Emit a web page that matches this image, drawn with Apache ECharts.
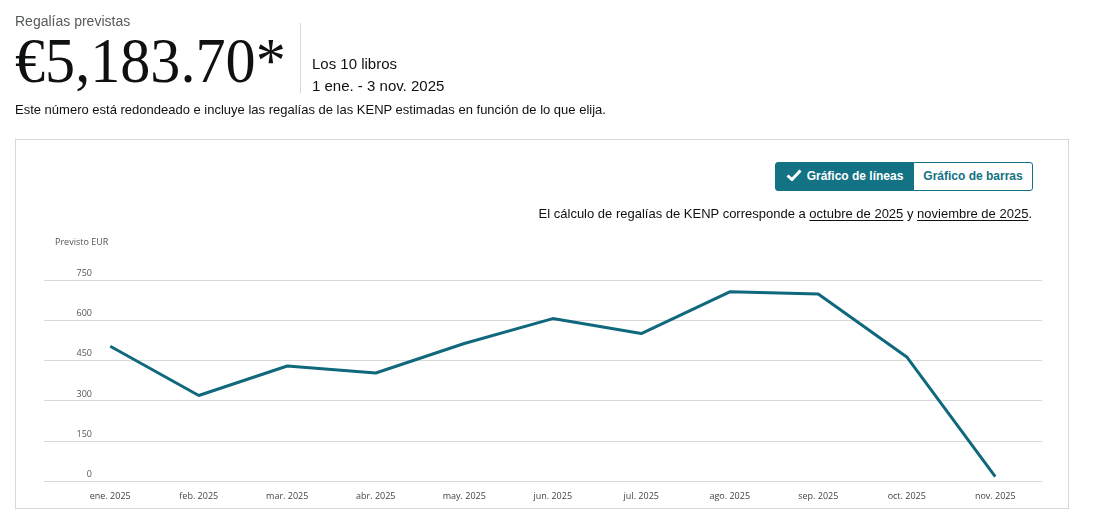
<!DOCTYPE html>
<html>
<head>
<meta charset="utf-8">
<script src="https://cdn.jsdelivr.net/npm/echarts@6/dist/echarts.min.js"></script>
<style>
    html, body { margin: 0; padding: 0; background: #fff; }
    body { width: 1101px; height: 523px; position: relative; overflow: hidden;
           font-family: "Liberation Sans", Arial, sans-serif; color: #0f1111; }
    .abs { position: absolute; white-space: nowrap; }
    #chart { position: absolute; left: 0; top: 0; width: 1101px; height: 523px; }
    .box { position: absolute; left: 15px; top: 139px; width: 1054px; height: 370px;
           border: 1px solid #d5d9d9; box-sizing: border-box; }
    .btn { position: absolute; top: 162px; height: 29px; box-sizing: border-box;
           font-size: 12px; font-weight: bold; line-height: 27px; text-align: center; }
    u { text-decoration: underline; text-underline-offset: 2px; }
</style>
</head>
<body>
<div class="box"></div>
<div id="chart"></div>

<div class="abs" style="left:15px;top:13px;font-size:14px;color:#565959;">Regalías previstas</div>
<div class="abs" style="left:15px;top:21px;font-family:'Liberation Serif',serif;font-size:64px;line-height:80px;transform:scaleX(0.94);transform-origin:left top;">€5,183.70*</div>
<div class="abs" style="left:300px;top:23px;width:1px;height:70px;background:#d5d9d9;"></div>
<div class="abs" style="left:312px;top:55px;font-size:15px;">Los 10 libros</div>
<div class="abs" style="left:312px;top:77px;font-size:15px;">1 ene. - 3 nov. 2025</div>
<div class="abs" style="left:15px;top:102px;font-size:13px;">Este número está redondeado e incluye las regalías de las KENP estimadas en función de lo que elija.</div>

<div class="btn" style="left:775px;width:139px;background:#137283;color:#fff;border:1px solid #137283;border-radius:3px 0 0 3px;">
    <svg width="16" height="12" viewBox="0 0 16 12" style="vertical-align:-1px;margin-right:5px;"><path d="M1.5 6.5 L6 10.5 L14.5 1.5" fill="none" stroke="#fff" stroke-width="3"/></svg>Gráfico de líneas</div>
<div class="btn" style="left:913px;width:120px;background:#fff;color:#137283;border:1px solid #137283;border-radius:0 3px 3px 0;">Gráfico de barras</div>

<div class="abs" style="right:69px;top:206px;font-size:13px;">El cálculo de regalías de KENP corresponde a <u>octubre de 2025</u> y <u>noviembre de 2025</u>.</div>

<script>
// datos
var months = ['ene. 2025', 'feb. 2025', 'mar. 2025', 'abr. 2025', 'may. 2025', 'jun. 2025',
              'jul. 2025', 'ago. 2025', 'sep. 2025', 'oct. 2025', 'nov. 2025'];
var royalties = [503, 319, 429, 403, 513, 606, 550, 706, 698, 463, 16];
var yTicks = [0, 150, 300, 450, 600, 750];

var myChart = echarts.init(document.getElementById('chart'), null, { renderer: 'canvas' });
var option = {
    animation: false,
    backgroundColor: 'transparent',
    textStyle: { fontFamily: '"Open Sans", sans-serif' },
    graphic: [
        {
            type: 'text', left: 55, top: 238,
            style: { text: 'Previsto EUR', fontSize: 9, fill: '#555', fontFamily: '"Open Sans", sans-serif' }
        }
    ],
    grid: [
        // rejilla ancha: solo líneas horizontales y etiquetas del eje y
        { left: 44, right: 59, top: 280, bottom: 42 },
        // rejilla de la serie
        { left: 66, right: 61.5, top: 280, bottom: 42 }
    ],
    xAxis: [
        { gridIndex: 0, type: 'value', show: false },
        {
            gridIndex: 1,
            type: 'category',
            data: months,
            boundaryGap: true,
            axisLine: { show: false },
            axisTick: { show: false },
            axisLabel: { color: '#444', fontSize: 9, margin: 11, interval: 0 }
        }
    ],
    yAxis: [
        {
            gridIndex: 0,
            type: 'value',
            min: yTicks[0],
            max: yTicks[yTicks.length - 1],
            interval: 150,
            axisLine: { show: false },
            axisTick: { show: false },
            axisLabel: {
                inside: true,
                margin: 48,
                align: 'right',
                verticalAlign: 'bottom',
                padding: [0, 0, 2, 0],
                color: '#555',
                fontSize: 9
            },
            splitLine: { show: true, lineStyle: { color: '#d9d9d9', width: 1 } }
        },
        {
            gridIndex: 1,
            type: 'value',
            min: yTicks[0],
            max: yTicks[yTicks.length - 1],
            interval: 150,
            show: false,
            splitLine: { show: false }
        }
    ],
    series: [
        {
            name: 'Previsto EUR',
            type: 'line',
            xAxisIndex: 1,
            yAxisIndex: 1,
            data: royalties,
            symbol: 'none',
            lineStyle: { color: '#10687d', width: 3 }
        }
    ]
};
myChart.setOption(option);
</script>
</body>
</html>
